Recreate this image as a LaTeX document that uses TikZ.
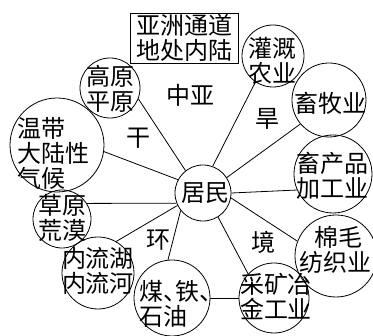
\documentclass[tikz,border=0pt]{standalone}
\usepackage{fontspec}
\setmainfont{Noto Sans CJK SC}
\usetikzlibrary{positioning}

\tikzset{
  bubble/.style={draw, circle, inner sep=0pt, line width=0.8pt},
  word/.style={font=\fontsize{24}{25}\selectfont, align=center, inner sep=0pt},
  link/.style={line width=0.8pt},
}

\begin{document}
\begin{tikzpicture}[x=1pt,y=-1pt]
\useasboundingbox (0,0) rectangle (373,336);
% centre and surrounding circles
\node[bubble, minimum size=56] (jumin)    at (203,193) {};
\node[bubble, minimum size=60] (gaoyuan)  at (110,88)  {};
\node[bubble, minimum size=94] (wendai)   at (57,145)  {};
\node[bubble, minimum size=58] (caoyuan)  at (62,219)  {};
\node[bubble, minimum size=72] (neiliu)   at (98,273)  {};
\node[bubble, minimum size=76] (meitie)   at (172,298) {};
\node[bubble, minimum size=70] (caikuang) at (274,298) {};
\node[bubble, minimum size=82] (mianmao)  at (336,256) {};
\node[bubble, minimum size=78] (xuchan)   at (333,174) {};
\node[bubble, minimum size=74] (xumu)     at (329,100) {};
\node[bubble, minimum size=62] (guangai)  at (273,56)  {};
% texts
\node[word] (jumin-t)    at (205,193) {居民};
\node[word] (gaoyuan-t)  at (110,89)  {高原\\平原};
\node[word, align=left, anchor=west] (wendai-t) at (17,153) {温带\\大陆性\\气候};
\node[word] (caoyuan-t)  at (62,218)  {草原\\荒漠};
\node[word] (neiliu-t)   at (98,271)  {内流湖\\内流河};
\node[word, align=left, anchor=west] (meitie-t) at (139,304) {煤、\kern-.5em铁、\\石油};
\node[word] (caikuang-t) at (276,296) {采矿冶\\金工业};
\node[word] (mianmao-t)  at (335,250) {\hspace*{6pt}棉毛\\纺织业};
\node[word] (xuchan-t)   at (332,176) {畜产品\\加工业};
\node[word] (xumu-t)     at (330,103) {畜牧业};
\node[word] (guangai-t)  at (272,61)  {灌溉\\农业};
\node[word, draw, line width=0.8pt, minimum width=108, minimum height=50] (tongdao) at (184,38) {亚洲通道\\地处内陆};
% region words
\node[word] (zhongya) at (190,95)  {中亚};
\node[word] (han)     at (267,119) {旱};
\node[word] (gan)     at (138,138) {干};
\node[word] (huan)    at (158,240) {环};
\node[word] (jing)    at (263,242) {境};
% connectors
\draw[link] (jumin.128) -- (gaoyuan.339);
\draw[link] (jumin.152) -- (wendai.352);
\draw[link] (jumin.201) -- (caoyuan.32);
\draw[link] (jumin.206) -- (neiliu.60);
\draw[link] (jumin.218) -- (meitie.96);
\draw[link] (jumin.302) -- (caikuang.137);
\draw[link] (jumin.350) -- (mianmao.159);
\draw[link] (jumin.0)   -- (xuchan.204);
\draw[link] (jumin.33)  -- (xumu.220);
\draw[link] (jumin.70)  -- (guangai.236);
\draw[link] (meitie.east) -- (caikuang.west);
\end{tikzpicture}
\end{document}
